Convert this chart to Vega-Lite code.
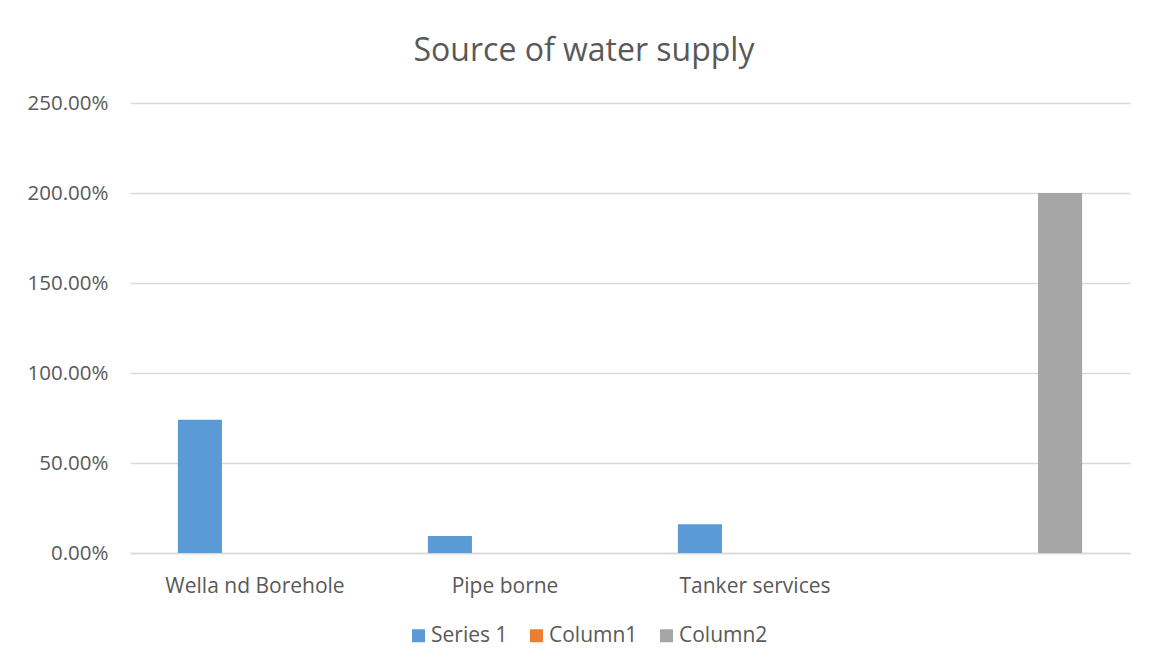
{
  "$schema": "https://vega.github.io/schema/vega-lite/v6.json",
  "width": 1000,
  "height": 450,
  "autosize": {"type": "none"},
  "padding": {"left": 130, "top": 103, "right": 28, "bottom": 119},
  "background": "white",
  "title": {
    "text": "Source of water supply",
    "font": "Open Sans",
    "fontSize": 32,
    "fontWeight": "normal",
    "color": "#595959",
    "anchor": "middle",
    "dx": -46,
    "offset": 25
  },
  "data": {
    "values": [
      {"category": "Wella nd Borehole", "series": "Series 1", "value": 0.74},
      {"category": "Pipe borne", "series": "Series 1", "value": 0.095},
      {"category": "Tanker services", "series": "Series 1", "value": 0.16},
      {"category": "", "series": "Column2", "value": 2.0}
    ]
  },
  "mark": {"type": "bar"},
  "encoding": {
    "x": {
      "field": "category",
      "type": "nominal",
      "scale": {"domain": ["Wella nd Borehole", "Pipe borne", "Tanker services", ""], "paddingInner": 0, "paddingOuter": 0},
      "axis": {
        "title": null,
        "labelAngle": 0,
        "labelFont": "Open Sans",
        "labelFontSize": 21,
        "labelColor": "#595959",
        "labelPadding": 22,
        "ticks": false,
        "domainColor": "#D9D9D9",
        "domainWidth": 1.3
      }
    },
    "xOffset": {
      "field": "series",
      "type": "nominal",
      "scale": {"domain": ["Series 1", "Column1", "Column2"], "paddingInner": 0.2, "paddingOuter": 0.87}
    },
    "y": {
      "field": "value",
      "type": "quantitative",
      "scale": {"domain": [0, 2.5], "nice": false},
      "axis": {
        "title": null,
        "format": ".2%",
        "values": [0, 0.5, 1, 1.5, 2, 2.5],
        "labelFont": "Open Sans",
        "labelFontSize": 20.5,
        "labelColor": "#595959",
        "labelPadding": 22,
        "ticks": false,
        "domain": false,
        "gridColor": "#D9D9D9",
        "gridWidth": 1.3
      }
    },
    "color": {
      "field": "series",
      "type": "nominal",
      "scale": {"domain": ["Series 1", "Column1", "Column2"], "range": ["#5B9BD5", "#ED7D31", "#A5A5A5"]},
      "legend": {
        "title": null,
        "orient": "none",
        "legendX": 278,
        "legendY": 522,
        "direction": "horizontal",
        "symbolType": "square",
        "symbolSize": 169,
        "symbolStrokeWidth": 0,
        "labelOffset": 2,
        "labelFont": "Open Sans",
        "labelFontSize": 21,
        "labelColor": "#595959",
        "columnPadding": 18
      }
    }
  },
  "config": {"view": {"stroke": null}}
}
